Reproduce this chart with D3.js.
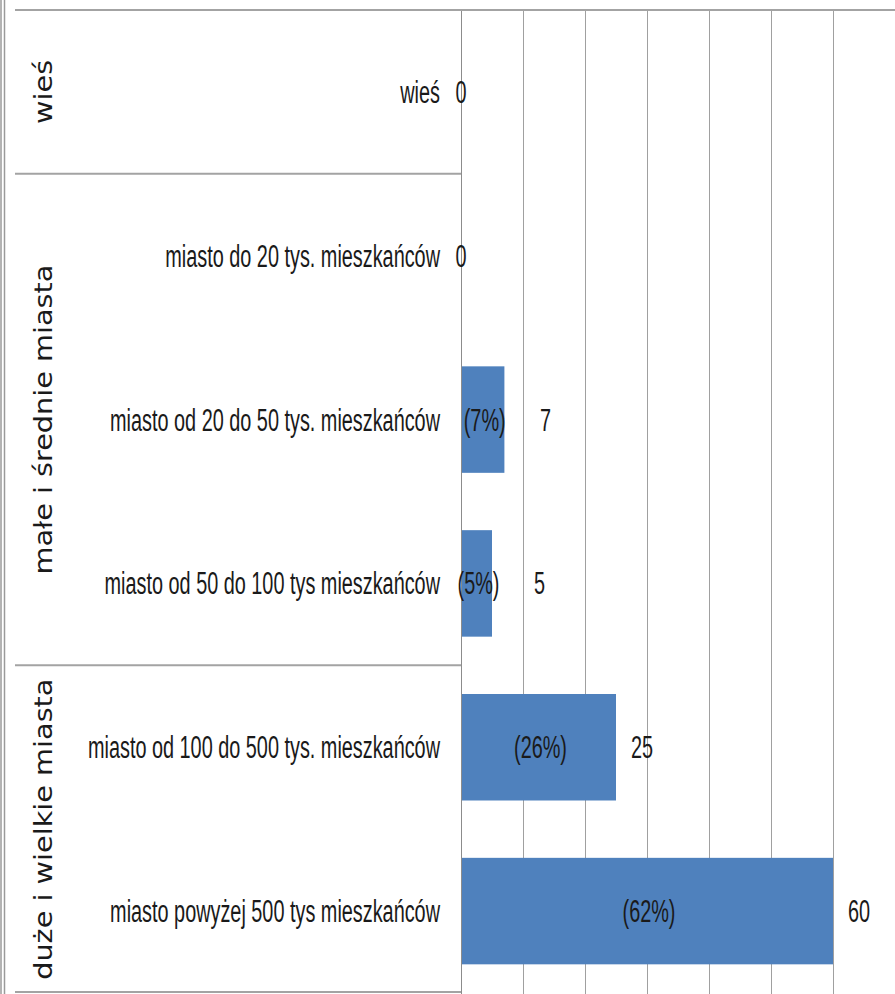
<!DOCTYPE html>
<html><head><meta charset="utf-8">
<script src="https://cdn.jsdelivr.net/npm/d3@7"></script>
<style>
html,body{margin:0;padding:0;background:#fff;}
svg{display:block;}
</style></head>
<body>
<svg id="chart" width="895" height="994"></svg>
<script>
const categories = [
  "wieś",
  "miasto do 20 tys. mieszkańców",
  "miasto od 20 do 50 tys. mieszkańców",
  "miasto od 50 do 100 tys mieszkańców",
  "miasto od 100 do 500 tys. mieszkańców",
  "miasto powyżej 500 tys mieszkańców"
];
const values = [0, 0, 7, 5, 25, 60];
const percentLabels = [null, null, "(7%)", "(5%)", "(26%)", "(62%)"];
const groups = ["wieś", "małe i średnie miasta", "duże i wielkie miasta"];
const groupOf = [0, 1, 1, 1, 2, 2];
const gridTicks = [0, 10, 20, 30, 40, 50, 60, 70];

const W = 895, H = 994;
const plotLeft = 461, plotTop = 10, plotBottom = 993;
const svg = d3.select("#chart");

const x = d3.scaleLinear().domain([0, 70]).range([plotLeft, W]);
const y = d3.scaleBand().domain(categories).range([plotTop, plotBottom])
  .paddingInner(0.35).paddingOuter(0.175);
const step = y.step();
const bandTop = i => plotTop + i * step;

const lineCol = "#a3a3a3";
const labelFont = "'Liberation Sans Narrow', 'Liberation Sans', Arial, sans-serif";
const fsz = 31;

// left double border
svg.append("line").attr("x1",1).attr("x2",1).attr("y1",0).attr("y2",H).attr("stroke","#9a9a9a").attr("stroke-width",1.5);
svg.append("line").attr("x1",4.5).attr("x2",4.5).attr("y1",0).attr("y2",H).attr("stroke","#9a9a9a").attr("stroke-width",1.5);

// gridlines
svg.append("g").selectAll("line").data(gridTicks.slice(1)).join("line")
  .attr("x1", d => Math.round(x(d)) + 0.5).attr("x2", d => Math.round(x(d)) + 0.5)
  .attr("y1", plotTop).attr("y2", H)
  .attr("stroke", "#a0a0a0").attr("stroke-width", 1);

// bars
svg.append("g").selectAll("rect").data(values).join("rect")
  .attr("x", x(0))
  .attr("y", (d, i) => y(categories[i]))
  .attr("width", d => x(d) - x(0))
  .attr("height", y.bandwidth())
  .attr("fill", "#4f81bd");

// axis line
svg.append("line").attr("x1", plotLeft + 0.5).attr("x2", plotLeft + 0.5)
  .attr("y1", plotTop).attr("y2", H).attr("stroke", "#8c8c8c").attr("stroke-width", 1);

// top line
svg.append("line").attr("x1", 15).attr("x2", W).attr("y1", plotTop).attr("y2", plotTop)
  .attr("stroke", lineCol).attr("stroke-width", 2);
// group separators
const seps = [];
for (let i = 1; i < categories.length; i++) if (groupOf[i] !== groupOf[i-1]) seps.push(i);
svg.append("g").selectAll("line").data(seps).join("line")
  .attr("x1", 15).attr("x2", plotLeft).attr("y1", d => bandTop(d)).attr("y2", d => bandTop(d))
  .attr("stroke", lineCol).attr("stroke-width", 2);
// bottom line
svg.append("line").attr("x1", 15).attr("x2", plotLeft).attr("y1", 992).attr("y2", 992)
  .attr("stroke", lineCol).attr("stroke-width", 2);

// category labels (narrow font, uniform horizontal compression)
const catG = svg.append("g");
const catTexts = catG.selectAll("text").data(categories).join("text")
  .attr("x", 440)
  .attr("y", d => y(d) + y.bandwidth() / 2 + 11)
  .attr("text-anchor", "end")
  .attr("font-family", labelFont)
  .attr("font-size", fsz)
  .attr("fill", "#1a1a1a")
  .text(d => d);
let maxW = 0;
catTexts.each(function() { maxW = Math.max(maxW, this.getComputedTextLength()); });
const squeeze = 352 / maxW;
catTexts.each(function() {
  const w = this.getComputedTextLength();
  d3.select(this).attr("textLength", w * squeeze).attr("lengthAdjust", "spacingAndGlyphs");
});

function squeezeText(sel) {
  sel.each(function() {
    const w = this.getComputedTextLength();
    d3.select(this).attr("textLength", w * squeeze).attr("lengthAdjust", "spacingAndGlyphs");
  });
}

// percentage labels inside bars
const pctData = values.map((v, i) => ({v, i, t: percentLabels[i]})).filter(d => d.t);
const pctTexts = svg.append("g").selectAll("text").data(pctData).join("text")
  .attr("x", d => (x(0) + x(d.v)) / 2 + 2)
  .attr("y", d => y(categories[d.i]) + y.bandwidth() / 2 + 11)
  .attr("text-anchor", "middle")
  .attr("font-family", labelFont)
  .attr("font-size", fsz)
  .attr("fill", "#1a1a1a")
  .text(d => d.t);
squeezeText(pctTexts);
const pctRight = {};
pctTexts.each(function(d) {
  const w = this.getComputedTextLength() * squeeze;
  pctRight[d.i] = (x(0) + x(d.v)) / 2 + 2 + w / 2;
});

// value labels
const valTexts = svg.append("g").selectAll("text").data(values).join("text")
  .attr("y", (d, i) => y(categories[i]) + y.bandwidth() / 2 + 11)
  .attr("font-family", labelFont)
  .attr("font-size", fsz)
  .attr("fill", "#1a1a1a")
  .text(d => d);
squeezeText(valTexts);
valTexts.each(function(d, i) {
  const s = d3.select(this);
  if (d === 0) {
    s.attr("x", x(0)).attr("text-anchor", "middle");
  } else {
    const pr = pctRight[i] !== undefined ? pctRight[i] + 42 : 0;
    s.attr("x", Math.max(x(d) + 15, pr)).attr("text-anchor", "start");
  }
});

// group labels (rotated)
const groupSpans = groups.map((g, gi) => {
  const idx = groupOf.map((v, i) => v === gi ? i : -1).filter(i => i >= 0);
  return {g, top: bandTop(idx[0]), bottom: bandTop(idx[idx.length - 1] + 1)};
});
const grpTexts = svg.append("g").selectAll("text").data(groupSpans).join("text")
  .attr("transform", d => `translate(52,${(d.top + d.bottom) / 2}) rotate(-90)`)
  .attr("text-anchor", "middle")
  .attr("font-family", "'DejaVu Sans', Verdana, sans-serif")
  .attr("font-size", 24)
  .attr("fill", "#1a1a1a")
  .text(d => d.g);
let gmax = 0;
grpTexts.each(function() { gmax = Math.max(gmax, this.getComputedTextLength()); });
const gsq = 310 / gmax;
grpTexts.each(function() {
  const w = this.getComputedTextLength();
  d3.select(this).attr("textLength", w * gsq).attr("lengthAdjust", "spacingAndGlyphs");
});
</script>
</body></html>
